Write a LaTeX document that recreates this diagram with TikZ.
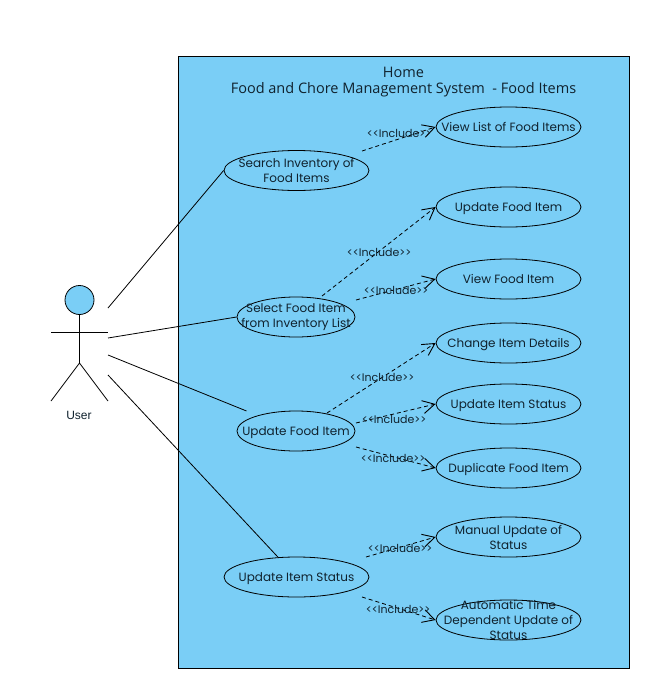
\documentclass[tikz,border=0pt]{standalone}
\usepackage{fontspec}
\setmainfont{Poppins}
\newfontfamily\titlefont{Open Sans}
\newfontfamily\actorfont{Liberation Sans}
\usepackage{xcolor}
\usetikzlibrary{arrows.meta,shapes.geometric}
\definecolor{skyfill}{HTML}{7ACEF6}
\definecolor{inktext}{HTML}{10222E}

\begin{document}
\begin{tikzpicture}[
  x=1pt,
  y=-1pt,
  font=\fontsize{12}{15}\selectfont,
  text=inktext,
  line width=0.8pt,
  usecase/.style={
    draw,
    ellipse,
    align=center,
    inner sep=-30pt,
    minimum width=145pt,
    minimum height=40pt
  },
  usecasesmall/.style={usecase, minimum width=118pt},
  oneline/.style={text depth=0pt},
  assoc/.style={line width=0.8pt},
  include/.style={
    dashed,
    dash pattern=on 4pt off 3pt,
    -{Straight Barb[length=12pt,width=13pt,line width=0.9pt]}
  },
  includelabel/.style={font=\fontsize{11}{13}\selectfont, inner sep=0pt}
]
  \useasboundingbox (0,0) rectangle (651,685);

  % system boundary
  \node[draw, fill=skyfill, minimum width=451.5pt, minimum height=612pt, inner sep=0pt, anchor=north west] (system) at (177.7,56) {};
  \node[font=\titlefont\fontsize{14.5}{16}\selectfont, align=center, anchor=north] (title) at (403.5,63) {Home\\Food and Chore Management System\ \ - Food Items};

  % actor
  \node[draw, circle, fill=skyfill, minimum size=29pt, inner sep=0pt] (head) at (79.5,300) {};
  \coordinate (armleft) at (51,332);
  \coordinate (armright) at (108,332);
  \coordinate (hip) at (79.5,363);
  \coordinate (footleft) at (51,401);
  \coordinate (footright) at (108,401);
  \node[font=\actorfont\fontsize{12}{14}\selectfont] (user) at (79,415) {User};
  \draw[assoc] (head) -- (hip);
  \draw[assoc] (armleft) -- (armright);
  \draw[assoc] (footleft) -- (hip) -- (footright);

  % left use cases
  \node[usecase] (search) at (296.5,170.5) {Search Inventory of\\Food Items};
  \node[usecasesmall] (select) at (296,317) {Select Food Item\\from Inventory List};
  \node[usecasesmall, oneline] (updatefood) at (296,431) {Update Food Item};
  \node[usecase, oneline] (updatestatus) at (296.5,577) {Update Item Status};

  % right use cases
  \node[usecase, oneline] (viewlist) at (508.5,127) {View List of Food Items};
  \node[usecase, oneline] (updateitem) at (508.5,207) {Update Food Item};
  \node[usecase, oneline] (viewitem) at (508.5,279) {View Food Item};
  \node[usecase, oneline] (changedetails) at (508.5,343) {Change Item Details};
  \node[usecase, oneline] (itemstatus) at (508.5,404) {Update Item Status};
  \node[usecase, oneline] (duplicate) at (508.5,468) {Duplicate Food Item};
  \node[usecase] (manual) at (508.5,537) {Manual Update of\\Status};
  \node[usecase] (automatic) at (508.5,620) {Automatic Time\\Dependent Update of\\Status};

  % actor associations
  \coordinate (user1) at (108,308);
  \coordinate (user2) at (108,338);
  \coordinate (user3) at (108,355);
  \coordinate (user4) at (108,375);
  \draw[assoc] (user1) -- (search.west);
  \draw[assoc] (user2) -- (select.west);
  \draw[assoc, shorten >=12pt] (user3) -- (updatefood);
  \draw[assoc] (user4) -- (updatestatus);

  % includes
  \coordinate (inc1) at (362,151);
  \coordinate (inc2) at (322,296);
  \coordinate (inc3) at (356,300);
  \coordinate (inc4) at (327,413);
  \coordinate (inc5) at (356,423);
  \coordinate (inc6) at (356,447);
  \coordinate (inc7) at (366,557);
  \coordinate (inc8) at (362,597);
  \draw[include] (inc1) -- (viewlist.west);
  \draw[include] (inc2) -- (updateitem.west);
  \draw[include] (inc3) -- (viewitem.west);
  \draw[include] (inc4) -- (changedetails.west);
  \draw[include] (inc5) -- (itemstatus.west);
  \draw[include] (inc6) -- (duplicate.west);
  \draw[include] (inc7) -- (manual.west);
  \draw[include] (inc8) -- (automatic.west);

  \node[includelabel] (lab1) at (399,133) {<{}<Include>{}>};
  \node[includelabel] (lab2) at (379,252.5) {<{}<Include>{}>};
  \node[includelabel] (lab3) at (396,290) {<{}<Include>{}>};
  \node[includelabel] (lab4) at (382,377) {<{}<Include>{}>};
  \node[includelabel] (lab5) at (394,419) {<{}<Include>{}>};
  \node[includelabel] (lab6) at (393,458) {<{}<Include>{}>};
  \node[includelabel] (lab7) at (400,548) {<{}<Include>{}>};
  \node[includelabel] (lab8) at (398,609) {<{}<Include>{}>};
\end{tikzpicture}
\end{document}
